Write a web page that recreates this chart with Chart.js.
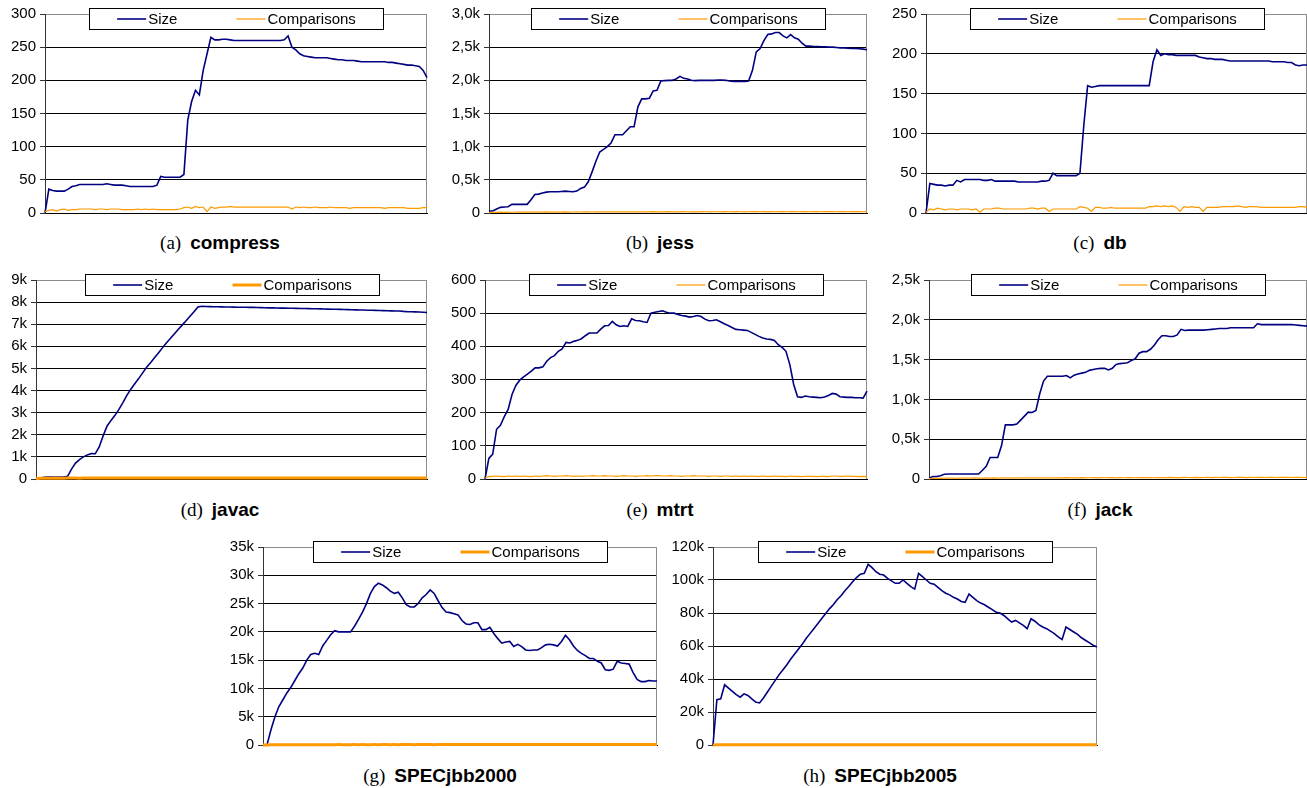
<!DOCTYPE html>
<html>
<head>
<meta charset="utf-8">
<script src="https://cdn.jsdelivr.net/npm/chart.js@4.4.1/dist/chart.umd.min.js"></script>
<style>
  html, body { margin: 0; padding: 0; background: #fff; overflow: hidden; width: 1307px; height: 788px; }
  canvas { position: absolute; }
  .cap { position: absolute; width: 400px; text-align: center; font-size: 19px; line-height: 19px; white-space: nowrap; color: #000; }
  .cap .lab { font-family: "Liberation Serif", "Times New Roman", serif; }
  .cap .name { font-family: "Liberation Sans", Arial, sans-serif; font-weight: bold; margin-left: 9px; }
</style>
</head>
<body>
<script>
// ---------- data ----------
const samples = Array.from({length: 100}, (_, i) => i + 1);
const seriesNames = ['Size', 'Comparisons'];

const compressSize = [0,36,34,33,33,33,36,40,41,43, 43,43,43,43,43,43,44,43,42,42, 42,41,40,40,40,40,40,40,40,42,
  55,54,54,54,54,54,58,140,168,185, 178,215,240,265,261,261,262,262,261,260, 260,260,260,260,260,260,260,260,260,260,
  260,260,261,267,250,246,240,237,236,235, 234,234,234,234,233,232,231,231,230,230, 230,229,228,228,228,228,228,228,228,227,
  227,226,225,224,223,223,222,221,215,204];
const compressComparisons = [2,4,5,3,5,6,4,5,5,6, 6,6,6,5,6,6,5,6,6,6, 5,5,5,5,6,5,6,5,6,5, 5,5,5,5,5,6,
  8,9,7,10,8,9,2,9,7,8, 9,9,10,9,9,9,9,9,9,9, 9,9,9,9,9,9,9,9, 6,9,8,9,8,8,9,8,8,8, 9,8,8,8,8,7,8,8,8,8,
  8,8,8,8,7,8,8,8,8,8,7,7,7,7,8,8];

const jessSize = [30,30,60,85,90,95,130,130,130,130, 130,200,280,285,300,315,320,320,320,325, 330,325,320,330,370,390,470,620,780,920,
  960,1000,1060,1180,1180,1180,1240,1300,1300,1600, 1720,1720,1730,1840,1850,1990,1995,2000,2000,2020,
  2060,2030,2020,2000,1995,2000,2000,2000,2000,2000, 2005,2005,2000,1990,1985,1985,1985,1985,1990,2150,
  2430,2480,2600,2690,2700,2720,2720,2670,2640,2690, 2640,2620,2560,2515,2515,2510,2510,2505,2505,2500,
  2500,2495,2490,2490,2485,2480,2480,2475,2470,2460];
const jessComparisons = [5,8,10,12,10,14,11,12,15,13, 12,14,13,15,12,16,14,13,15,14, 16,14,15,17,15,16,18,15,17,16,
  18,16,17,19,17,18,16,19,17,18, 19,17,18,20,18,19,17,20,18,19, 18,20,19,17,19,18,20,19,18,19,
  19,18,20,19,18,20,19,18,19,20, 21,19,20,18,21,19,20,22,19,20, 20,19,21,20,19,20,21,19,20,21,
  20,19,21,20,19,20,21,20,19,20];

const dbSize = [0,37,36,35,35,34,35,35,41,39, 42,42,42,42,42,41,41,42,40,40, 40,40,40,40,39,39,39,39,39,39,
  40,40,41,50,47,47,47,47,47,47, 50,110,160,158,159,160,160,160,160,160, 160,160,160,160,160,160,160,160,160,190,
  205,198,200,199,199,198,198,198,198,198, 198,196,195,194,194,193,193,193,192,191, 191,191,191,191,191,191,191,191,191,191,
  190,190,190,190,189,189,186,185,186,186];
const dbComparisons = [1,5,4,6,5,4,5,5,4,5, 5,5,4,5,1,5,5,5,6,6, 5,5,5,5,5,5,5,6,6,5, 6,6,2,5,5,5,5,5,5,5,
  8,7,6,2,7,7,6,6,7,6, 6,6,6,6,6,6,6,6,8,8, 9,8,9,8,9,7,2,8,7,8, 7,7,2,7,7,7,7,8,8,8,
  8,9,8,7,8,8,8,7,7,7, 7,7,7,7,7,7,7,8,8,7];

const javacSize = [0,30,80,90,90,90,90,90,120,450, 720,880,1000,1090,1150,1140,1450,1950,2400,2650,
  2880,3150,3450,3780,4060,4310,4540,4800,5050,5260, 5480,5700,5930,6150,6350,6560,6760,6960,7160,7360,
  7560,7780,7810,7800,7795,7790,7790,7785,7780,7780, 7775,7770,7770,7765,7760,7760,7755,7750,7745,7740,
  7740,7735,7730,7730,7725,7720,7715,7710,7710,7705, 7700,7700,7695,7690,7685,7680,7675,7670,7665,7660,
  7655,7650,7645,7640,7635,7630,7625,7620,7615,7610, 7605,7600,7600,7580,7570,7565,7560,7550,7540,7530];
const javacComparisons = [10,30,35,38,36,40,37,39,42,40, 41,39,43,40,42,44,41,43,42,45, 43,41,44,42,46,43,45,42,44,46,
  45,43,47,44,46,45,43,46,44,47, 46,44,48,45,47,46,44,47,45,48, 47,45,46,48,45,47,46,44,47,45,
  46,48,45,47,44,46,45,47,46,44, 45,47,46,44,46,45,47,45,44,46, 45,43,46,44,45,47,44,46,45,43,
  44,46,45,43,45,44,46,44,43,45];

const mtrtSize = [0,62,75,150,162,188,210,255,282,298, 308,316,325,335,335,338,355,366,372,385,
  392,412,410,415,418,423,432,440,440,440, 452,462,463,475,465,460,462,460,483,478,
  477,474,472,500,503,505,507,503,500,500, 496,493,491,488,490,493,490,482,477,478,
  480,474,468,463,457,451,450,449,448,442, 436,430,425,422,421,418,405,397,385,345,
  285,248,246,250,248,247,246,245,247,252, 258,256,248,247,246,246,245,245,244,265];
const mtrtComparisons = [3,7,8,9,8,7,9,8,9,8, 9,8,7,9,8,9,10,9,8,9, 9,10,9,8,9,8,9,9,10,9,
  9,10,9,9,8,9,10,9,9,8, 9,9,10,9,10,10,9,9,10,9, 9,8,9,9,10,9,9,9,8,9,
  9,8,9,9,8,9,8,9,8,9, 8,8,9,8,8,9,8,8,7,9, 8,8,7,8,8,8,7,8,8,7, 9,9,8,8,9,8,8,7,8,7];

const jackSize = [10,30,32,40,60,62,62,62,62,62, 62,62,62,62,110,160,270,270,270,420,
  680,680,680,690,740,790,840,835,860,1070, 1230,1290,1290,1290,1290,1290,1300,1270,1305,1320,
  1330,1340,1365,1375,1385,1390,1390,1370,1390,1440, 1450,1455,1460,1490,1510,1580,1600,1600,1630,1680,
  1750,1800,1800,1790,1790,1810,1880,1865,1870,1870, 1870,1870,1870,1875,1880,1885,1890,1890,1890,1900,
  1900,1900,1900,1900,1900,1900,1950,1940,1940,1940, 1940,1940,1940,1940,1940,1940,1935,1930,1925,1920];
const jackComparisons = [5,8,10,9,11,10,12,9,11,10, 12,11,13,10,12,14,11,13,12,14, 13,15,12,14,13,15,14,16,13,15,
  14,16,15,13,16,14,17,15,16,14, 17,15,16,18,15,17,16,18,17,15, 18,16,17,19,16,18,17,19,18,16,
  19,17,18,20,17,19,18,20,19,17, 20,18,19,21,18,20,19,21,20,18, 19,21,20,18,21,19,20,22,19,21,
  20,19,21,20,22,19,21,20,19,20];

const jbb2000Size = [0,0,2700,5000,6800,8000,9200,10200,11400,12600, 13600,15000,16000,16200,16000,17500,18500,19500,20200,20000,
  20000,20000,20000,21000,22200,23500,25000,26800,28000,28600, 28300,27800,27200,26800,27000,26000,24800,24400,24400,25000,
  26000,26600,27400,26800,25500,24300,23500,23400,23200,23000, 22000,21400,21300,21600,21600,20400,20400,20800,19700,18800,
  18000,18200,18300,17400,17800,17400,16800,16700,16800,16800, 17200,17700,17800,17700,17500,18300,19400,18600,17500,16700,
  16200,15800,15300,15300,14800,14500,13300,13200,13400,14800, 14500,14400,14300,12800,11600,11200,11200,11400,11300,11300];
const jbb2000Comparisons = [0,20,40,55,60,58,62,60,64,61, 63,60,65,62,64,66,63,65,62,67, 64,66,63,68,65,67,64,66,69,65,
  67,70,66,68,65,69,67,70,66,68, 71,67,69,66,70,68,71,67,69,72, 68,70,67,71,69,72,68,70,67,71,
  69,72,68,70,73,69,71,68,72,70, 73,69,71,68,72,70,73,69,71,70, 72,68,71,69,73,70,72,69,71,70,
  72,69,71,68,70,72,69,71,70,69];

const jbb2005Size = [0,27500,28000,36500,34500,32500,30500,29000,31000,30000, 28000,26000,25500,28500,32000,35500,39000,42500,45500,48500,
  52000,55000,58000,61000,64500,67500,70500,73500,76500,79500, 82500,85000,88000,90500,93500,96000,99000,101500,103500,104000,
  109500,107500,105000,103500,103000,101000,99500,98000,98000,100000, 98000,96000,94500,104000,102000,100000,98000,97500,95500,93500,
  92000,91000,89500,88500,87000,86500,91500,89500,87500,86000, 85000,83500,82000,80500,80000,78500,76500,74500,75500,74000,
  72500,70500,76500,75000,73000,71500,70500,69000,67500,65500, 64000,71500,70000,68500,67000,65000,63500,62000,60500,59400];
const jbb2005Comparisons = [0,90,120,140,135,150,145,155,148,152, 150,156,149,158,151,155,160,153,157,150,
  158,154,161,152,159,156,162,155,160,153, 163,157,161,155,164,158,162,156,165,159,
  163,157,166,160,164,158,167,161,165,159, 168,162,166,160,169,163,167,161,170,164,
  168,162,166,171,165,169,163,167,172,166, 170,164,168,173,167,171,165,169,174,168,
  172,166,170,175,169,173,167,171,176,170, 174,168,172,177,171,175,169,173,178,172];

const compressTicks = ['0','50','100','150','200','250','300'];
const jessTicks = ['0','0,5k','1,0k','1,5k','2,0k','2,5k','3,0k'];
const dbTicks = ['0','50','100','150','200','250'];
const javacTicks = ['0','1k','2k','3k','4k','5k','6k','7k','8k','9k'];
const mtrtTicks = ['0','100','200','300','400','500','600'];
const jackTicks = ['0','0,5k','1,0k','1,5k','2,0k','2,5k'];
const jbb2000Ticks = ['0','5k','10k','15k','20k','25k','30k','35k'];
const jbb2005Ticks = ['0','20k','40k','60k','80k','100k','120k'];

const panelLetters = ['(a)','(b)','(c)','(d)','(e)','(f)','(g)','(h)'];
const panelNames = ['compress','jess','db','javac','mtrt','jack','SPECjbb2000','SPECjbb2005'];

// ---------- layout & drawing ----------
const FONT = '"Liberation Sans", Arial, sans-serif';
const NAVY = '#000080';
const ORANGE = '#FF9900';

const framePlugin = {
  id: 'frame',
  beforeDatasetsDraw(chart) {
    const {ctx, chartArea: a} = chart;
    ctx.save();
    ctx.strokeStyle = '#8c8c8c';
    ctx.lineWidth = 1;
    const x = Math.round(a.right) - 0.5;
    ctx.beginPath();
    ctx.moveTo(x, a.top);
    ctx.lineTo(x, a.bottom);
    ctx.stroke();
    ctx.restore();
  },
  afterDraw(chart) {
    const {ctx, chartArea: a} = chart;
    const ds = chart.data.datasets;
    ctx.save();
    ctx.font = '15px ' + FONT;
    const sample = 29, gap = 2;
    const colW = Math.max(...ds.map(d => sample + gap + ctx.measureText(d.label).width));
    const boxW = 294, boxH = 21;
    const cx = (a.left + a.right) / 2;
    const left = Math.round(cx - boxW / 2) + 0.5;
    const top = Math.round(a.top - 6) + 0.5;
    ctx.fillStyle = '#fff';
    ctx.fillRect(left, top, boxW, boxH);
    ctx.strokeStyle = '#000';
    ctx.lineWidth = 1;
    ctx.strokeRect(left, top, boxW, boxH);
    const startX = left + (boxW - 2 * colW) / 2;
    const cy = Math.round(top + boxH / 2);
    ds.forEach((d, i) => {
      const x0 = startX + i * colW;
      ctx.strokeStyle = d.borderColor;
      ctx.lineWidth = d.borderWidth;
      ctx.beginPath();
      ctx.moveTo(x0, cy);
      ctx.lineTo(x0 + sample, cy);
      ctx.stroke();
      ctx.fillStyle = '#000';
      ctx.textAlign = 'left';
      ctx.textBaseline = 'middle';
      ctx.fillText(d.label, x0 + sample + gap, cy + 1);
    });
    ctx.restore();
  }
};

const AX = 44, PT = 12, PB = 12, PR = 3;

function panel(rect, size, comp, yMax, yStep, tickLabels, compWidth) {
  const cv = document.createElement('canvas');
  const w = rect.r - rect.l + AX + PR;
  const h = rect.b - rect.t + PT + PB;
  cv.width = w; cv.height = h;
  cv.style.left = (rect.l - AX) + 'px';
  cv.style.top = (rect.t - PT) + 'px';
  cv.style.width = w + 'px'; cv.style.height = h + 'px';
  document.body.appendChild(cv);
  new Chart(cv, {
    type: 'line',
    data: {
      labels: samples,
      datasets: [
        { label: seriesNames[0], data: size, borderColor: NAVY, borderWidth: 1.6, pointRadius: 0, tension: 0, order: 1, clip: 4 },
        { label: seriesNames[1], data: comp, borderColor: ORANGE, borderWidth: compWidth, pointRadius: 0, tension: 0, order: 0, clip: 4 }
      ]
    },
    options: {
      responsive: false,
      devicePixelRatio: 1,
      animation: false,
      events: [],
      layout: { padding: { top: PT, right: PR, bottom: PB, left: 0 } },
      plugins: { legend: { display: false }, tooltip: { enabled: false } },
      scales: {
        x: {
          type: 'category',
          grid: { display: false },
          ticks: { display: false },
          border: { display: true, color: '#000', width: 1 },
          afterFit(s) { s.height = 0; }
        },
        y: {
          min: 0, max: yMax,
          grid: {
            color: c => (c.tick && c.tick.value === yMax) ? '#8c8c8c' : '#000',
            lineWidth: 1, drawTicks: true, tickLength: 5, tickColor: '#333'
          },
          border: { display: true, color: '#333', width: 1 },
          ticks: {
            stepSize: yStep, padding: 4, color: '#000',
            font: { family: FONT, size: 15 },
            callback: (v, i) => tickLabels[i]
          },
          afterFit(s) { s.width = AX; }
        }
      }
    },
    plugins: [framePlugin]
  });
}

panel({l:45, t:13, r:427, b:214}, compressSize, compressComparisons, 300, 50, compressTicks, 1.2);
panel({l:489, t:13, r:867, b:214}, jessSize, jessComparisons, 3000, 500, jessTicks, 1.2);
panel({l:926, t:13, r:1307, b:214}, dbSize, dbComparisons, 250, 50, dbTicks, 1.2);
panel({l:36, t:279, r:427, b:480}, javacSize, javacComparisons, 9000, 1000, javacTicks, 3);
panel({l:485, t:279, r:867, b:480}, mtrtSize, mtrtComparisons, 600, 100, mtrtTicks, 1.2);
panel({l:929, t:279, r:1307, b:480}, jackSize, jackComparisons, 2500, 500, jackTicks, 1.2);
panel({l:263, t:546, r:657, b:746}, jbb2000Size, jbb2000Comparisons, 35000, 5000, jbb2000Ticks, 3);
panel({l:713, t:546, r:1097, b:746}, jbb2005Size, jbb2005Comparisons, 120000, 20000, jbb2005Ticks, 3);

// captions
const capCenters = [220, 660, 1100, 220, 660, 1100, 440, 880];
const capBaselines = [249, 249, 249, 516, 516, 516, 782, 782];
panelLetters.forEach((lab, i) => {
  const d = document.createElement('div');
  d.className = 'cap';
  d.style.left = (capCenters[i] - 200) + 'px';
  d.style.top = (capBaselines[i] - 16) + 'px';
  const s1 = document.createElement('span'); s1.className = 'lab'; s1.textContent = lab;
  const s2 = document.createElement('span'); s2.className = 'name'; s2.textContent = panelNames[i];
  d.appendChild(s1); d.appendChild(s2);
  document.body.appendChild(d);
});
</script>
</body>
</html>
